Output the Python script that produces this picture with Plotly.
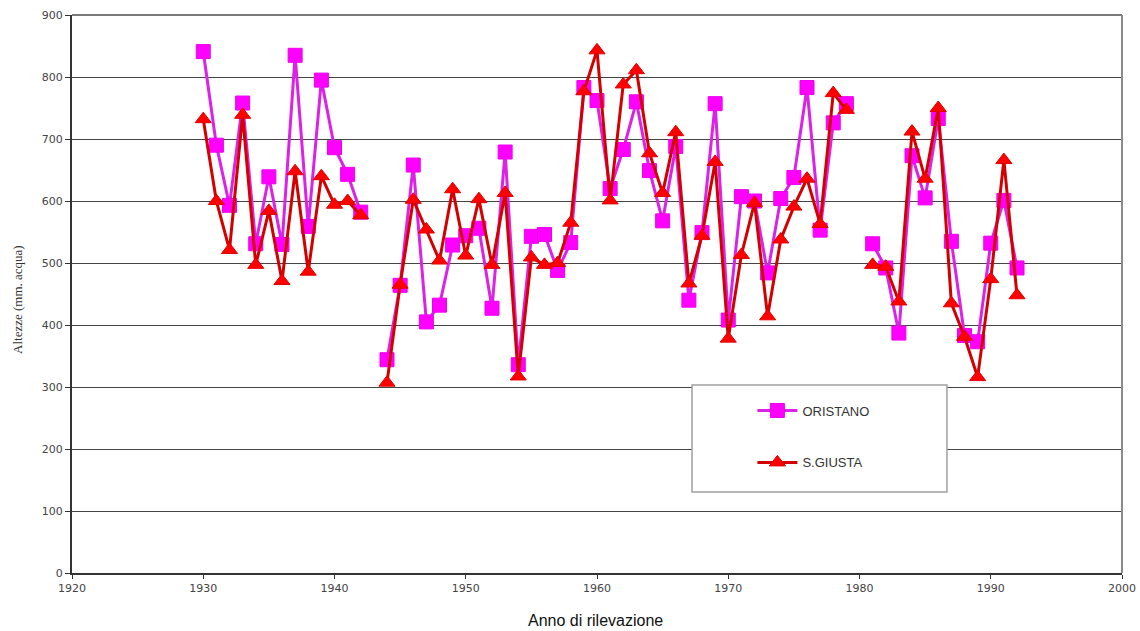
import plotly.graph_objects as go

years = list(range(1930, 1993))

oristano = [841, 690, 593, 758, 531, 639, 530, 835, 559, 795,
            686, 643, 582, None, 344, 464, 658, 405, 432, 529,
            544, 556, 427, 679, 336, 543, 546, 488, 533, 783,
            762, 620, 683, 760, 649, 568, 688, 440, 549, 757,
            408, 607, 600, 484, 604, 638, 783, 553, 726, 757,
            None, 531, 492, 387, 673, 605, 733, 535, 383, 373,
            532, 601, 492]

sgiusta = [732, 600, 521, 739, 497, 584, 471, 648, 486, 640,
           594, 600, 577, None, 307, 465, 602, 554, 504, 619,
           512, 603, 497, 613, 317, 509, 497, 500, 565, 777,
           843, 601, 788, 811, 677, 613, 711, 467, 544, 663,
           378, 513, 597, 414, 538, 591, 636, 563, 774, 747,
           None, 497, 494, 438, 712, 636, 750, 435, 381, 316,
           474, 666, 448]

x_ticks = [1920, 1930, 1940, 1950, 1960, 1970, 1980, 1990, 2000]
y_ticks = [0, 100, 200, 300, 400, 500, 600, 700, 800, 900]

fig = go.Figure()
fig.add_trace(go.Scatter(
    x=years, y=oristano, name="ORISTANO", mode="lines+markers",
    line=dict(color="#dd22e8", width=3),
    marker=dict(symbol="square", size=14, color="#ff00ff",
                line=dict(color="#ee00ee", width=1)),
    legendgroup="a", connectgaps=False))
fig.add_trace(go.Scatter(
    x=years, y=sgiusta, name="S.GIUSTA", mode="lines+markers",
    line=dict(color="#d40000", width=3),
    marker=dict(symbol="triangle-up", size=14, color="#ff0000",
                line=dict(color="#e00000", width=1)),
    legendgroup="b", connectgaps=False))

axis_font = dict(family="DejaVu Sans", size=11, color="#444444")

fig.update_layout(
    width=1140, height=631,
    margin=dict(l=72, r=18, t=15, b=58),
    paper_bgcolor="white", plot_bgcolor="white",
    showlegend=True,
    legend=dict(x=0.648, y=0.318, xanchor="left", yanchor="top",
                bgcolor="rgba(0,0,0,0)", borderwidth=0,
                font=dict(family="Liberation Sans", size=13, color="#333333"),
                traceorder="grouped", tracegroupgap=32, itemwidth=40),
    xaxis=dict(range=[1920, 2000], tickvals=x_ticks, showgrid=False,
               showline=True, linecolor="#333333", linewidth=2,
               ticks="outside", ticklen=4, tickcolor="#333333",
               tickfont=axis_font, zeroline=False, automargin=False),
    yaxis=dict(range=[0, 900], tickvals=y_ticks, showgrid=True,
               gridcolor="#444444", gridwidth=1,
               showline=True, linecolor="#333333", linewidth=2,
               ticks="outside", ticklen=5, tickcolor="#333333",
               tickfont=axis_font, zeroline=False, automargin=False),
    shapes=[
        dict(type="rect", xref="paper", yref="paper",
             x0=0.5905, x1=0.8333, y0=0.1452, y1=0.3369,
             fillcolor="white", line=dict(color="#a0a0a0", width=1.5),
             layer="above"),
        dict(type="line", xref="paper", yref="paper",
             x0=1, x1=1, y0=0, y1=1,
             line=dict(color="#8a8a8a", width=2), layer="above"),
        dict(type="line", xref="paper", yref="paper",
             x0=0, x1=1, y0=1, y1=1,
             line=dict(color="#7a7a7a", width=2), layer="above"),
    ],
    annotations=[
        dict(text="Anno di rilevazione", xref="paper", yref="paper",
             x=0.499, y=-0.085, xanchor="center", yanchor="middle",
             showarrow=False,
             font=dict(family="Liberation Sans", size=16, color="#111111")),
        dict(text="Altezze (mm. acqua)", xref="paper", yref="paper",
             x=-0.052, y=0.49, xanchor="center", yanchor="middle",
             textangle=-90, showarrow=False,
             font=dict(family="Liberation Serif", size=13, color="#333333")),
    ],
)

fig.write_html("out.html",
               config={"displayModeBar": False},
               post_script="document.body.style.margin='0';document.body.style.overflow='hidden';")
